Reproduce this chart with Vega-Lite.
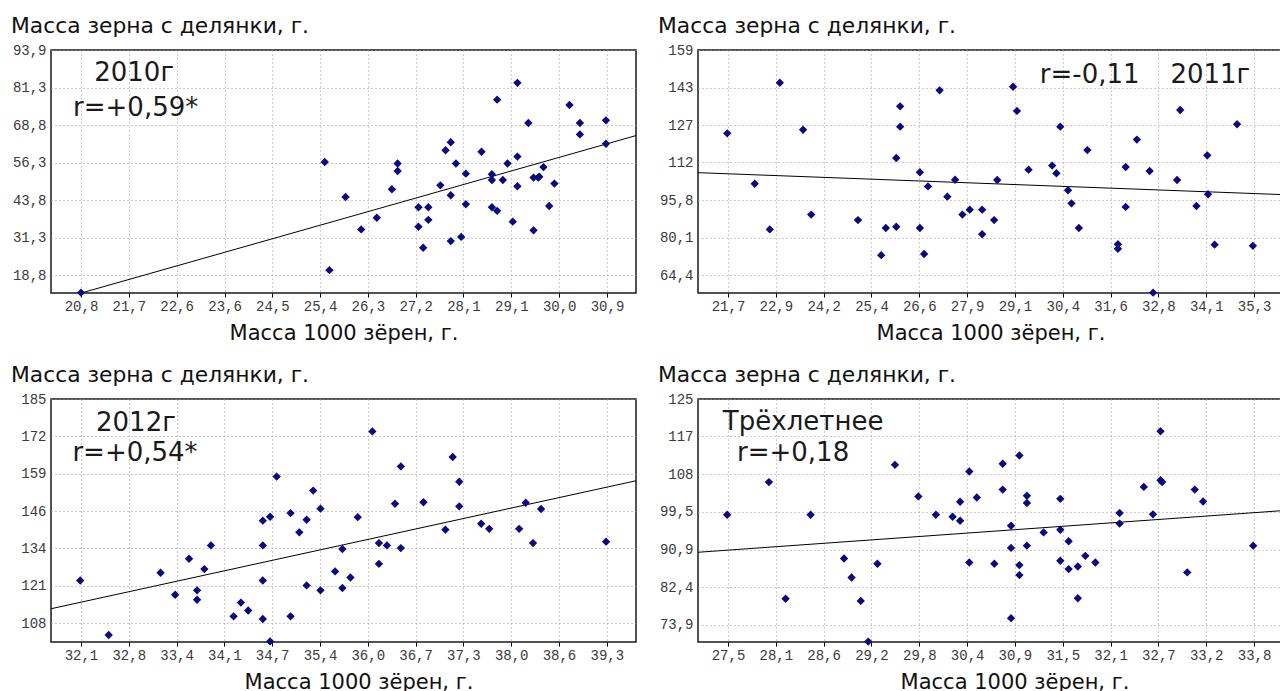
{
  "$schema": "https://vega.github.io/schema/vega-lite/v6.json",
  "background": "white",
  "padding": {"left": 10, "top": 15, "right": 0, "bottom": 0},
  "datasets": {
    "points": [
      {"panel": "2010", "m1000": 20.8, "mplot": 12.9}, {"panel": "2010", "m1000": 25.48, "mplot": 56.5}, {"panel": "2010", "m1000": 25.57, "mplot": 20.4}, {"panel": "2010", "m1000": 25.88, "mplot": 44.8}, {"panel": "2010", "m1000": 26.18, "mplot": 34.0}, {"panel": "2010", "m1000": 26.48, "mplot": 37.9}, {"panel": "2010", "m1000": 26.77, "mplot": 47.4}, {"panel": "2010", "m1000": 26.88, "mplot": 56.0}, {"panel": "2010", "m1000": 26.88, "mplot": 53.5}, {"panel": "2010", "m1000": 27.28, "mplot": 41.4}, {"panel": "2010", "m1000": 27.28, "mplot": 34.9}, {"panel": "2010", "m1000": 27.37, "mplot": 27.9}, {"panel": "2010", "m1000": 27.47, "mplot": 41.4}, {"panel": "2010", "m1000": 27.47, "mplot": 37.2}, {"panel": "2010", "m1000": 27.7, "mplot": 48.7}, {"panel": "2010", "m1000": 27.8, "mplot": 60.4}, {"panel": "2010", "m1000": 27.9, "mplot": 63.1}, {"panel": "2010", "m1000": 27.9, "mplot": 45.4}, {"panel": "2010", "m1000": 27.9, "mplot": 30.1}, {"panel": "2010", "m1000": 28.0, "mplot": 56.0}, {"panel": "2010", "m1000": 28.1, "mplot": 31.5}, {"panel": "2010", "m1000": 28.19, "mplot": 52.6}, {"panel": "2010", "m1000": 28.19, "mplot": 42.4}, {"panel": "2010", "m1000": 28.49, "mplot": 59.9}, {"panel": "2010", "m1000": 28.69, "mplot": 52.4}, {"panel": "2010", "m1000": 28.69, "mplot": 50.5}, {"panel": "2010", "m1000": 28.69, "mplot": 41.4}, {"panel": "2010", "m1000": 28.79, "mplot": 40.2}, {"panel": "2010", "m1000": 28.79, "mplot": 77.3}, {"panel": "2010", "m1000": 28.9, "mplot": 50.5}, {"panel": "2010", "m1000": 28.99, "mplot": 56.0}, {"panel": "2010", "m1000": 29.09, "mplot": 36.6}, {"panel": "2010", "m1000": 29.18, "mplot": 82.9}, {"panel": "2010", "m1000": 29.18, "mplot": 58.3}, {"panel": "2010", "m1000": 29.18, "mplot": 48.4}, {"panel": "2010", "m1000": 29.39, "mplot": 69.5}, {"panel": "2010", "m1000": 29.49, "mplot": 51.3}, {"panel": "2010", "m1000": 29.49, "mplot": 33.7}, {"panel": "2010", "m1000": 29.58, "mplot": 51.3}, {"panel": "2010", "m1000": 29.6, "mplot": 51.6}, {"panel": "2010", "m1000": 29.68, "mplot": 54.8}, {"panel": "2010", "m1000": 29.79, "mplot": 41.8}, {"panel": "2010", "m1000": 29.89, "mplot": 49.3}, {"panel": "2010", "m1000": 30.18, "mplot": 75.5}, {"panel": "2010", "m1000": 30.38, "mplot": 69.5}, {"panel": "2010", "m1000": 30.38, "mplot": 65.7}, {"panel": "2010", "m1000": 30.88, "mplot": 70.4}, {"panel": "2010", "m1000": 30.88, "mplot": 62.6},
      {"panel": "2011", "m1000": 21.68, "mplot": 123.7}, {"panel": "2011", "m1000": 22.39, "mplot": 102.6}, {"panel": "2011", "m1000": 22.78, "mplot": 83.5}, {"panel": "2011", "m1000": 23.04, "mplot": 144.9}, {"panel": "2011", "m1000": 23.64, "mplot": 125.2}, {"panel": "2011", "m1000": 23.85, "mplot": 89.7}, {"panel": "2011", "m1000": 25.06, "mplot": 87.4}, {"panel": "2011", "m1000": 25.66, "mplot": 72.7}, {"panel": "2011", "m1000": 25.78, "mplot": 84.1}, {"panel": "2011", "m1000": 26.05, "mplot": 84.6}, {"panel": "2011", "m1000": 26.05, "mplot": 113.4}, {"panel": "2011", "m1000": 26.15, "mplot": 135.0}, {"panel": "2011", "m1000": 26.15, "mplot": 126.5}, {"panel": "2011", "m1000": 26.66, "mplot": 107.4}, {"panel": "2011", "m1000": 26.66, "mplot": 84.1}, {"panel": "2011", "m1000": 26.77, "mplot": 73.2}, {"panel": "2011", "m1000": 26.87, "mplot": 101.5}, {"panel": "2011", "m1000": 27.17, "mplot": 141.7}, {"panel": "2011", "m1000": 27.37, "mplot": 97.2}, {"panel": "2011", "m1000": 27.57, "mplot": 104.3}, {"panel": "2011", "m1000": 27.76, "mplot": 89.7}, {"panel": "2011", "m1000": 27.95, "mplot": 91.75}, {"panel": "2011", "m1000": 28.27, "mplot": 91.75}, {"panel": "2011", "m1000": 28.27, "mplot": 81.45}, {"panel": "2011", "m1000": 28.58, "mplot": 87.4}, {"panel": "2011", "m1000": 28.66, "mplot": 104.2}, {"panel": "2011", "m1000": 29.07, "mplot": 143.2}, {"panel": "2011", "m1000": 29.17, "mplot": 133.1}, {"panel": "2011", "m1000": 29.47, "mplot": 108.5}, {"panel": "2011", "m1000": 30.08, "mplot": 110.2}, {"panel": "2011", "m1000": 30.19, "mplot": 107.0}, {"panel": "2011", "m1000": 30.29, "mplot": 126.5}, {"panel": "2011", "m1000": 30.49, "mplot": 99.9}, {"panel": "2011", "m1000": 30.58, "mplot": 94.4}, {"panel": "2011", "m1000": 30.77, "mplot": 84.1}, {"panel": "2011", "m1000": 30.99, "mplot": 116.7}, {"panel": "2011", "m1000": 31.78, "mplot": 77.3}, {"panel": "2011", "m1000": 31.78, "mplot": 75.4}, {"panel": "2011", "m1000": 31.98, "mplot": 109.6}, {"panel": "2011", "m1000": 31.98, "mplot": 92.9}, {"panel": "2011", "m1000": 32.27, "mplot": 121.1}, {"panel": "2011", "m1000": 32.6, "mplot": 107.95}, {"panel": "2011", "m1000": 32.69, "mplot": 57.0}, {"panel": "2011", "m1000": 33.31, "mplot": 104.2}, {"panel": "2011", "m1000": 33.39, "mplot": 133.5}, {"panel": "2011", "m1000": 33.81, "mplot": 93.3}, {"panel": "2011", "m1000": 34.09, "mplot": 114.5}, {"panel": "2011", "m1000": 34.11, "mplot": 98.2}, {"panel": "2011", "m1000": 34.28, "mplot": 77.1}, {"panel": "2011", "m1000": 34.86, "mplot": 127.5}, {"panel": "2011", "m1000": 35.27, "mplot": 76.6},
      {"panel": "2012", "m1000": 32.09, "mplot": 122.6}, {"panel": "2012", "m1000": 32.48, "mplot": 103.9}, {"panel": "2012", "m1000": 33.19, "mplot": 125.25}, {"panel": "2012", "m1000": 33.39, "mplot": 117.7}, {"panel": "2012", "m1000": 33.58, "mplot": 130.05}, {"panel": "2012", "m1000": 33.69, "mplot": 119.2}, {"panel": "2012", "m1000": 33.69, "mplot": 116.0}, {"panel": "2012", "m1000": 33.79, "mplot": 126.5}, {"panel": "2012", "m1000": 33.88, "mplot": 134.6}, {"panel": "2012", "m1000": 34.19, "mplot": 110.3}, {"panel": "2012", "m1000": 34.29, "mplot": 115.0}, {"panel": "2012", "m1000": 34.39, "mplot": 112.3}, {"panel": "2012", "m1000": 34.59, "mplot": 143.1}, {"panel": "2012", "m1000": 34.59, "mplot": 134.6}, {"panel": "2012", "m1000": 34.59, "mplot": 122.6}, {"panel": "2012", "m1000": 34.59, "mplot": 109.4}, {"panel": "2012", "m1000": 34.69, "mplot": 144.45}, {"panel": "2012", "m1000": 34.69, "mplot": 101.7}, {"panel": "2012", "m1000": 34.78, "mplot": 158.2}, {"panel": "2012", "m1000": 34.97, "mplot": 145.7}, {"panel": "2012", "m1000": 34.97, "mplot": 110.3}, {"panel": "2012", "m1000": 35.09, "mplot": 139.1}, {"panel": "2012", "m1000": 35.19, "mplot": 143.4}, {"panel": "2012", "m1000": 35.19, "mplot": 120.9}, {"panel": "2012", "m1000": 35.28, "mplot": 153.4}, {"panel": "2012", "m1000": 35.38, "mplot": 147.2}, {"panel": "2012", "m1000": 35.38, "mplot": 119.2}, {"panel": "2012", "m1000": 35.58, "mplot": 125.7}, {"panel": "2012", "m1000": 35.68, "mplot": 133.4}, {"panel": "2012", "m1000": 35.68, "mplot": 120.0}, {"panel": "2012", "m1000": 35.79, "mplot": 123.6}, {"panel": "2012", "m1000": 35.89, "mplot": 144.3}, {"panel": "2012", "m1000": 36.09, "mplot": 173.7}, {"panel": "2012", "m1000": 36.18, "mplot": 135.4}, {"panel": "2012", "m1000": 36.18, "mplot": 128.3}, {"panel": "2012", "m1000": 36.29, "mplot": 134.6}, {"panel": "2012", "m1000": 36.4, "mplot": 148.9}, {"panel": "2012", "m1000": 36.48, "mplot": 161.7}, {"panel": "2012", "m1000": 36.48, "mplot": 133.7}, {"panel": "2012", "m1000": 36.79, "mplot": 149.4}, {"panel": "2012", "m1000": 37.09, "mplot": 140.0}, {"panel": "2012", "m1000": 37.19, "mplot": 164.9}, {"panel": "2012", "m1000": 37.28, "mplot": 156.45}, {"panel": "2012", "m1000": 37.28, "mplot": 148.0}, {"panel": "2012", "m1000": 37.58, "mplot": 142.05}, {"panel": "2012", "m1000": 37.69, "mplot": 140.3}, {"panel": "2012", "m1000": 38.1, "mplot": 140.3}, {"panel": "2012", "m1000": 38.19, "mplot": 149.25}, {"panel": "2012", "m1000": 38.29, "mplot": 135.4}, {"panel": "2012", "m1000": 38.4, "mplot": 147.1}, {"panel": "2012", "m1000": 39.29, "mplot": 135.9},
      {"panel": "3yr", "m1000": 27.49, "mplot": 98.8}, {"panel": "3yr", "m1000": 27.99, "mplot": 106.2}, {"panel": "3yr", "m1000": 28.19, "mplot": 79.8}, {"panel": "3yr", "m1000": 28.49, "mplot": 98.8}, {"panel": "3yr", "m1000": 28.89, "mplot": 88.9}, {"panel": "3yr", "m1000": 28.98, "mplot": 84.6}, {"panel": "3yr", "m1000": 29.09, "mplot": 79.3}, {"panel": "3yr", "m1000": 29.18, "mplot": 70.1}, {"panel": "3yr", "m1000": 29.29, "mplot": 87.7}, {"panel": "3yr", "m1000": 29.5, "mplot": 110.1}, {"panel": "3yr", "m1000": 29.78, "mplot": 102.95}, {"panel": "3yr", "m1000": 29.99, "mplot": 98.8}, {"panel": "3yr", "m1000": 30.19, "mplot": 98.35}, {"panel": "3yr", "m1000": 30.28, "mplot": 101.75}, {"panel": "3yr", "m1000": 30.28, "mplot": 97.45}, {"panel": "3yr", "m1000": 30.39, "mplot": 108.6}, {"panel": "3yr", "m1000": 30.39, "mplot": 88.0}, {"panel": "3yr", "m1000": 30.48, "mplot": 102.7}, {"panel": "3yr", "m1000": 30.69, "mplot": 87.7}, {"panel": "3yr", "m1000": 30.79, "mplot": 110.35}, {"panel": "3yr", "m1000": 30.79, "mplot": 104.5}, {"panel": "3yr", "m1000": 30.89, "mplot": 96.3}, {"panel": "3yr", "m1000": 30.89, "mplot": 91.3}, {"panel": "3yr", "m1000": 30.89, "mplot": 75.4}, {"panel": "3yr", "m1000": 30.99, "mplot": 112.2}, {"panel": "3yr", "m1000": 30.99, "mplot": 87.4}, {"panel": "3yr", "m1000": 30.99, "mplot": 85.15}, {"panel": "3yr", "m1000": 31.08, "mplot": 103.1}, {"panel": "3yr", "m1000": 31.08, "mplot": 101.45}, {"panel": "3yr", "m1000": 31.08, "mplot": 91.8}, {"panel": "3yr", "m1000": 31.28, "mplot": 94.8}, {"panel": "3yr", "m1000": 31.48, "mplot": 102.4}, {"panel": "3yr", "m1000": 31.48, "mplot": 95.4}, {"panel": "3yr", "m1000": 31.48, "mplot": 88.4}, {"panel": "3yr", "m1000": 31.58, "mplot": 92.8}, {"panel": "3yr", "m1000": 31.58, "mplot": 86.5}, {"panel": "3yr", "m1000": 31.69, "mplot": 87.1}, {"panel": "3yr", "m1000": 31.69, "mplot": 79.9}, {"panel": "3yr", "m1000": 31.78, "mplot": 89.5}, {"panel": "3yr", "m1000": 31.9, "mplot": 88.0}, {"panel": "3yr", "m1000": 32.19, "mplot": 99.2}, {"panel": "3yr", "m1000": 32.19, "mplot": 96.8}, {"panel": "3yr", "m1000": 32.48, "mplot": 105.1}, {"panel": "3yr", "m1000": 32.59, "mplot": 98.9}, {"panel": "3yr", "m1000": 32.68, "mplot": 117.7}, {"panel": "3yr", "m1000": 32.68, "mplot": 106.6}, {"panel": "3yr", "m1000": 32.7, "mplot": 106.2}, {"panel": "3yr", "m1000": 33.0, "mplot": 85.75}, {"panel": "3yr", "m1000": 33.09, "mplot": 104.5}, {"panel": "3yr", "m1000": 33.19, "mplot": 101.8}, {"panel": "3yr", "m1000": 33.79, "mplot": 91.8}
    ],
    "fits": [
      {"panel": "2010", "m1000": 20.224, "mplot": 9.93}, {"panel": "2010", "m1000": 31.457, "mplot": 65.31},
      {"panel": "2011", "m1000": 20.924, "mplot": 107.25}, {"panel": "2011", "m1000": 36.048, "mplot": 98.05},
      {"panel": "2012", "m1000": 31.69, "mplot": 112.9}, {"panel": "2012", "m1000": 39.7, "mplot": 156.77},
      {"panel": "3yr", "m1000": 27.141, "mplot": 90.31}, {"panel": "3yr", "m1000": 34.147, "mplot": 99.74}
    ],
    "one": [{"k": 1}]
  },
  "config": {
    "view": {"stroke": "#1a1a1a", "strokeWidth": 1.5},
    "axis": {
      "labelFont": "Liberation Mono", "labelFontSize": 14, "labelColor": "#3a3a3a",
      "grid": true, "gridColor": "#9a9a9a", "gridDash": [1, 3], "gridWidth": 1,
      "domain": false, "labelFlush": false, "labelOverlap": false,
      "titleFont": "DejaVu Sans", "titleFontSize": 21, "titleFontWeight": "normal", "titleColor": "#111"
    },
    "axisX": {"ticks": true, "tickSize": 4, "tickColor": "#000", "labelBaseline": "middle", "labelPadding": 9, "minExtent": 20, "maxExtent": 20, "titleBaseline": "alphabetic", "titlePadding": 26},
    "axisY": {"ticks": false, "labelPadding": 5, "minExtent": 40, "maxExtent": 40},
    "title": {"anchor": "start", "frame": "bounds", "font": "DejaVu Sans", "fontSize": 21.8, "fontWeight": "normal", "color": "#111", "baseline": "alphabetic", "offset": 5},
    "text": {"font": "DejaVu Sans", "fontSize": 26, "color": "#1a1a1a", "align": "center", "baseline": "alphabetic"}
  },
  "spacing": 20,
  "vconcat": [
    {
      "spacing": 20,
      "hconcat": [
        {
          "width": 585, "height": 243,
          "title": "Масса зерна с делянки, г.",
          "layer": [
            {
              "data": {"name": "fits"},
              "transform": [{"filter": "datum.panel === '2010'"}],
              "mark": {"type": "line", "clip": true, "color": "#000", "strokeWidth": 1},
              "encoding": {
                "x": {"field": "m1000", "type": "quantitative", "scale": {"domain": [20.224, 31.457], "nice": false, "zero": false},
                  "axis": {"title": "Масса 1000 зёрен, г.", "values": [20.8, 21.718, 22.636, 23.556, 24.473, 25.391, 26.309, 27.227, 28.144, 29.064, 29.982, 30.9], "labelExpr": "replace(format(datum.value, '.3g'), '.', ',')"}},
                "y": {"field": "mplot", "type": "quantitative", "scale": {"domain": [12.79, 93.86], "nice": false, "zero": false},
                  "axis": {"title": null, "values": [93.86, 81.348, 68.836, 56.324, 43.812, 31.3, 18.788], "labelExpr": "replace(format(datum.value, '.3g'), '.', ',')"}}
              }
            },
            {
              "data": {"name": "points"},
              "transform": [{"filter": "datum.panel === '2010'"}],
              "mark": {"type": "point", "shape": "diamond", "filled": true, "size": 70, "color": "#0a0a80", "opacity": 1},
              "encoding": {"x": {"field": "m1000", "type": "quantitative"}, "y": {"field": "mplot", "type": "quantitative"}}
            },
            {"data": {"name": "one"}, "mark": {"type": "text"}, "encoding": {"x": {"datum": 21.82, "type": "quantitative"}, "y": {"datum": 83.52, "type": "quantitative"}, "text": {"value": "2010г"}}},
            {"data": {"name": "one"}, "mark": {"type": "text"}, "encoding": {"x": {"datum": 21.85, "type": "quantitative"}, "y": {"datum": 71.85, "type": "quantitative"}, "text": {"value": "r=+0,59*"}}}
          ]
        },
        {
          "width": 585, "height": 243,
          "title": "Масса зерна с делянки, г.",
          "layer": [
            {
              "data": {"name": "fits"},
              "transform": [{"filter": "datum.panel === '2011'"}],
              "mark": {"type": "line", "clip": true, "color": "#000", "strokeWidth": 1},
              "encoding": {
                "x": {"field": "m1000", "type": "quantitative", "scale": {"domain": [20.924, 36.048], "nice": false, "zero": false},
                  "axis": {"title": "Масса 1000 зёрен, г.", "values": [21.7, 22.936, 24.173, 25.409, 26.644, 27.882, 29.118, 30.355, 31.591, 32.827, 34.064, 35.3], "labelExpr": "replace(format(datum.value, '.3g'), '.', ',')"}},
                "y": {"field": "mplot", "type": "quantitative", "scale": {"domain": [56.87, 158.6], "nice": false, "zero": false},
                  "axis": {"title": null, "values": [158.6, 142.9, 127.2, 111.51, 95.8, 80.1, 64.4], "labelExpr": "replace(format(datum.value, '.3g'), '.', ',')"}}
              }
            },
            {
              "data": {"name": "points"},
              "transform": [{"filter": "datum.panel === '2011'"}],
              "mark": {"type": "point", "shape": "diamond", "filled": true, "size": 70, "color": "#0a0a80", "opacity": 1},
              "encoding": {"x": {"field": "m1000", "type": "quantitative"}, "y": {"field": "mplot", "type": "quantitative"}}
            },
            {"data": {"name": "one"}, "mark": {"type": "text"}, "encoding": {"x": {"datum": 31.05, "type": "quantitative"}, "y": {"datum": 144.8, "type": "quantitative"}, "text": {"value": "r=-0,11"}}},
            {"data": {"name": "one"}, "mark": {"type": "text"}, "encoding": {"x": {"datum": 34.17, "type": "quantitative"}, "y": {"datum": 144.8, "type": "quantitative"}, "text": {"value": "2011г"}}}
          ]
        }
      ]
    },
    {
      "spacing": 20,
      "hconcat": [
        {
          "width": 585, "height": 243,
          "title": "Масса зерна с делянки, г.",
          "layer": [
            {
              "data": {"name": "fits"},
              "transform": [{"filter": "datum.panel === '2012'"}],
              "mark": {"type": "line", "clip": true, "color": "#000", "strokeWidth": 1},
              "encoding": {
                "x": {"field": "m1000", "type": "quantitative", "scale": {"domain": [31.69, 39.7], "nice": false, "zero": false},
                  "axis": {"title": "Масса 1000 зёрен, г.", "titleX": 307.5, "values": [32.1, 32.7545, 33.409, 34.064, 34.718, 35.373, 36.027, 36.682, 37.336, 37.991, 38.645, 39.3], "labelExpr": "replace(format(datum.value, '.3g'), '.', ',')"}},
                "y": {"field": "mplot", "type": "quantitative", "scale": {"domain": [101.5, 184.8], "nice": false, "zero": false},
                  "axis": {"title": null, "values": [184.8, 172.0, 159.2, 146.4, 133.6, 120.8, 108.0], "labelExpr": "replace(format(datum.value, '.3g'), '.', ',')"}}
              }
            },
            {
              "data": {"name": "points"},
              "transform": [{"filter": "datum.panel === '2012'"}],
              "mark": {"type": "point", "shape": "diamond", "filled": true, "size": 70, "color": "#0a0a80", "opacity": 1},
              "encoding": {"x": {"field": "m1000", "type": "quantitative"}, "y": {"field": "mplot", "type": "quantitative"}}
            },
            {"data": {"name": "one"}, "mark": {"type": "text"}, "encoding": {"x": {"datum": 32.853, "type": "quantitative"}, "y": {"datum": 174.0, "type": "quantitative"}, "text": {"value": "2012г"}}},
            {"data": {"name": "one"}, "mark": {"type": "text"}, "encoding": {"x": {"datum": 32.84, "type": "quantitative"}, "y": {"datum": 163.4, "type": "quantitative"}, "text": {"value": "r=+0,54*"}}}
          ]
        },
        {
          "width": 585, "height": 243,
          "title": "Масса зерна с делянки, г.",
          "layer": [
            {
              "data": {"name": "fits"},
              "transform": [{"filter": "datum.panel === '3yr'"}],
              "mark": {"type": "line", "clip": true, "color": "#000", "strokeWidth": 1},
              "encoding": {
                "x": {"field": "m1000", "type": "quantitative", "scale": {"domain": [27.141, 34.147], "nice": false, "zero": false},
                  "axis": {"title": "Масса 1000 зёрен, г.", "titleX": 316.5, "values": [27.5, 28.073, 28.645, 29.218, 29.791, 30.364, 30.936, 31.509, 32.082, 32.655, 33.227, 33.8], "labelExpr": "replace(format(datum.value, '.3g'), '.', ',')"}},
                "y": {"field": "mplot", "type": "quantitative", "scale": {"domain": [70.0, 125.0], "nice": false, "zero": false},
                  "axis": {"title": null, "values": [125.0, 116.6, 108.0, 99.5, 90.9, 82.4, 73.9], "labelExpr": "replace(format(datum.value, '.3g'), '.', ',')"}}
              }
            },
            {
              "data": {"name": "points"},
              "transform": [{"filter": "datum.panel === '3yr'"}],
              "mark": {"type": "point", "shape": "diamond", "filled": true, "size": 70, "color": "#0a0a80", "opacity": 1},
              "encoding": {"x": {"field": "m1000", "type": "quantitative"}, "y": {"field": "mplot", "type": "quantitative"}}
            },
            {"data": {"name": "one"}, "mark": {"type": "text"}, "encoding": {"x": {"datum": 28.4, "type": "quantitative"}, "y": {"datum": 118.05, "type": "quantitative"}, "text": {"value": "Трёхлетнее"}}},
            {"data": {"name": "one"}, "mark": {"type": "text"}, "encoding": {"x": {"datum": 28.28, "type": "quantitative"}, "y": {"datum": 110.87, "type": "quantitative"}, "text": {"value": "r=+0,18"}}}
          ]
        }
      ]
    }
  ]
}
